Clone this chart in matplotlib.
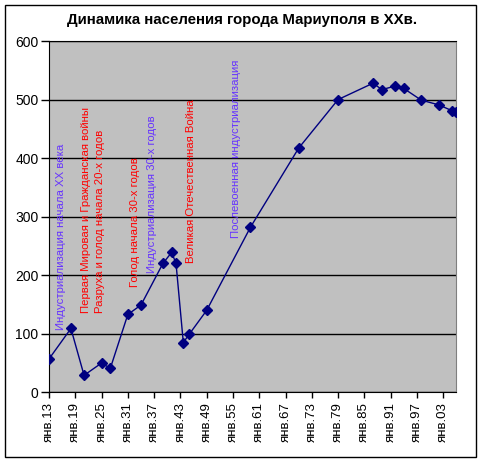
import pandas as pd
import matplotlib
matplotlib.use('Agg')
import matplotlib.pyplot as plt
from matplotlib.patches import Rectangle

plt.rcParams['font.family'] = ['Liberation Sans', 'DejaVu Sans']

# --- данные ---
dates = ['1913-01-01', '1918-01-01', '1921-01-01', '1925-01-01', '1927-01-01',
         '1931-01-01', '1934-01-01', '1939-01-01', '1941-01-01', '1942-01-01',
         '1943-09-01', '1945-01-01', '1949-01-01', '1959-01-01', '1970-01-01',
         '1979-01-01', '1987-01-01', '1989-01-01', '1992-01-01', '1994-01-01',
         '1998-01-01', '2002-01-01', '2005-01-01', '2006-01-01']
population = [57, 109, 29, 50, 41, 133, 149, 220, 239, 220, 85, 99, 140,
              282, 417, 500, 528, 517, 523, 519, 499, 491, 481, 479]

tick_years = list(range(1913, 2006, 6))
tick_labels = ['янв.%02d' % (y % 100) for y in tick_years]

# подписи событий: текст, дата, нижний край (в единицах оси Y), цвет
events = ['Индустриализация начала XX века',
          'Первая Мировая и Гражданская войны',
          'Разруха и голод начала 20-х годов',
          'Голод начала 30-х годов',
          'Индустриализация 30-х годов',
          'Великая Отечественная Война',
          'Послевоенная индустриализация']
event_dates = ['1915-09-01', '1921-06-01', '1924-08-01', '1932-08-01',
               '1936-06-01', '1945-05-01', '1955-09-01']
event_bottom = [106, 135, 135, 180, 204, 221, 263]
event_colors = ['#6633ff', '#ff0000', '#ff0000', '#ff0000',
                '#6633ff', '#ff0000', '#6633ff']

x = pd.to_datetime(dates)

fig = plt.figure(figsize=(4.82, 4.63), dpi=100)
ax = fig.add_axes([0.1017, 0.1527, 0.8450, 0.7587])
ax.set_facecolor('#c0c0c0')

ax.plot(x, population, color='#000080', linewidth=1, marker='D',
        markersize=5, zorder=3)

ax.set_ylim(0, 600)
ax.set_yticks(range(0, 601, 100))
ax.set_xlim(pd.Timestamp('1913-01-01'), pd.Timestamp('2006-01-01'))
ax.set_xticks(pd.to_datetime([f'{y}-01-01' for y in tick_years]))
ax.set_xticklabels(tick_labels, rotation=90)
ax.tick_params(axis='y', labelsize=10, length=6, width=1, color='black', pad=1.5)
ax.tick_params(axis='x', labelsize=9.5, length=4, width=1, color='black', pad=3)

ax.grid(axis='y', color='black', linewidth=1)
ax.set_axisbelow(True)
for s in ['left', 'bottom', 'top']:
    ax.spines[s].set_color('black')
ax.spines['right'].set_color('#808080')

for txt, d, b, c in zip(events, event_dates, event_bottom, event_colors):
    ax.text(pd.Timestamp(d), b, txt, rotation=90, ha='center', va='bottom',
            color=c, fontsize=8.2, zorder=4)

fig.text(0.502, 0.957, 'Динамика населения города Мариуполя в XXв.',
         ha='center', va='center', fontsize=10.8, fontweight='bold')

fig.patches.append(Rectangle((5 / 482, 1 - 457 / 463), 471 / 482, 452 / 463,
                             transform=fig.transFigure, fill=False,
                             edgecolor='black', linewidth=1))

fig.savefig('out.png', dpi=100)
